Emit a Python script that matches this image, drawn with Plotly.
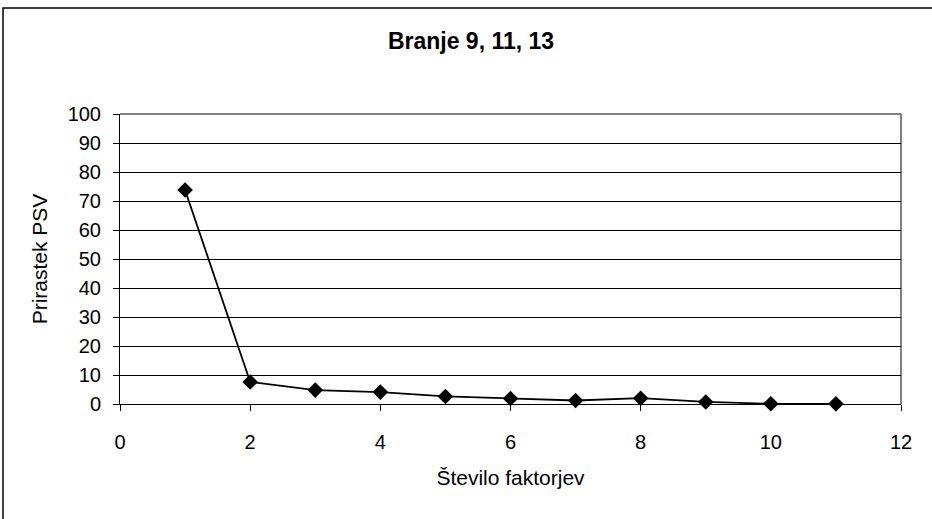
import plotly.graph_objects as go

factors = [1, 2, 3, 4, 5, 6, 7, 8, 9, 10, 11]
increments = [73.8, 7.6, 4.8, 4.1, 2.6, 1.9, 1.2, 2.0, 0.7, 0.1, 0.05]
x_ticks = [0, 2, 4, 6, 8, 10, 12]
y_ticks = [0, 10, 20, 30, 40, 50, 60, 70, 80, 90, 100]

W, H = 932, 519
L, R, T, B = 120, 31, 114, 115
pw, ph = W - L - R, H - T - B

FAM = "Liberation Sans, Arial, sans-serif"

fig = go.Figure()
fig.add_trace(go.Scatter(
    x=factors, y=increments, mode="lines+markers",
    line=dict(color="black", width=1.8),
    marker=dict(symbol="diamond", size=12, color="black"),
    showlegend=False, cliponaxis=False,
))

fig.update_layout(
    width=W, height=H,
    margin=dict(l=L, r=R, t=T, b=B, autoexpand=False),
    paper_bgcolor="white", plot_bgcolor="white",
    font=dict(family=FAM, size=20, color="black"),
    title=dict(text="<b>Branje 9, 11, 13</b>", x=(471 - L) / pw, xref="paper", xanchor="center",
               y=1 - 41 / H, yanchor="middle",
               font=dict(family=FAM, size=23, color="black")),
    xaxis=dict(range=[0, 12], tickvals=x_ticks, ticks="outside", ticklen=6,
               tickcolor="black", showgrid=False, zeroline=False,
               showline=True, linecolor="black", linewidth=1,
               ticklabelstandoff=14, tickfont=dict(size=20),
               title=dict(text="Število faktorjev", standoff=18, font=dict(size=21))),
    yaxis=dict(range=[0, 100], tickvals=y_ticks, ticks="outside", ticklen=6,
               tickcolor="black", showgrid=True, gridcolor="black", gridwidth=1,
               zeroline=False, showline=True, linecolor="black", linewidth=1,
               ticklabelstandoff=8, tickfont=dict(size=20),
               title=dict(text="Prirastek PSV", standoff=14, font=dict(size=21))),
    shapes=[
        dict(type="line", xref="paper", yref="paper", x0=0, x1=1, y0=1, y1=1,
             line=dict(color="#808080", width=2), layer="below"),
        dict(type="line", xref="paper", yref="paper", x0=1, x1=1, y0=0, y1=1,
             line=dict(color="#808080", width=2), layer="below"),
        dict(type="rect", xref="paper", yref="paper",
             x0=(3 - L) / pw, x1=(W + 10 - L) / pw,
             y0=-(H + 10 - T - ph) / ph, y1=1 + (T - 8) / ph,
             line=dict(color="black", width=1.5)),
    ],
)

fig.write_html("out.html", config={"displayModeBar": False},
               post_script="document.body.style.margin='0';")
